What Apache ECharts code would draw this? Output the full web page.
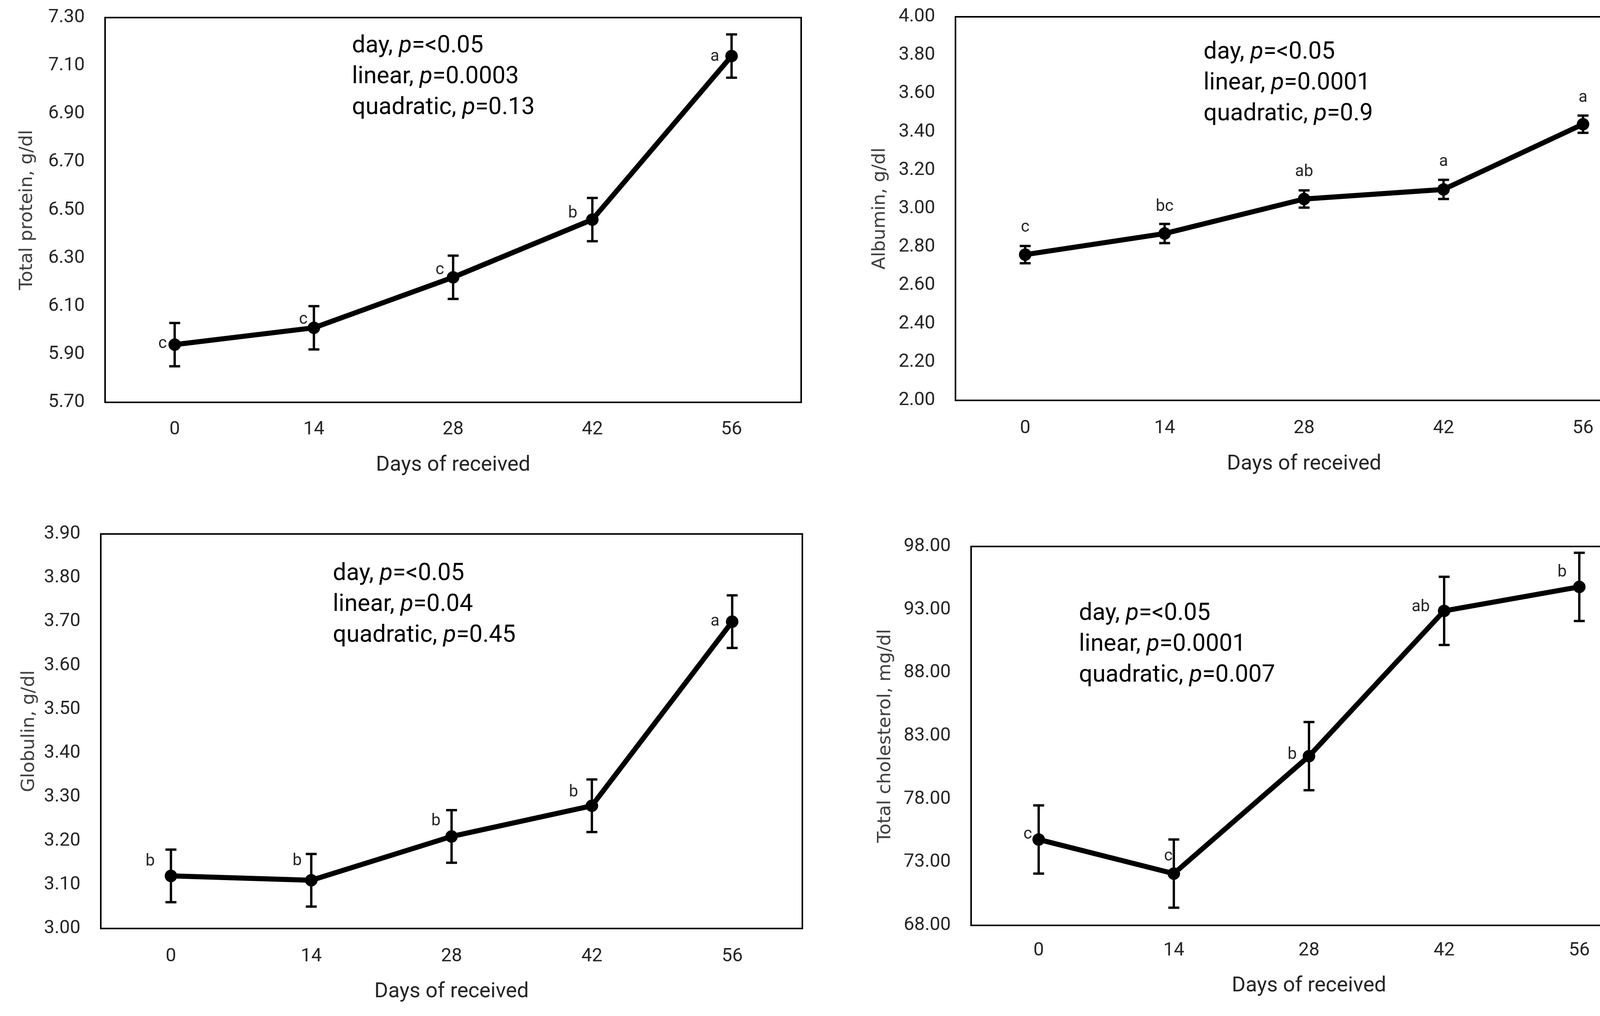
<!DOCTYPE html>
<html><head><meta charset="utf-8">
<script src="https://cdn.jsdelivr.net/npm/echarts@6/dist/echarts.min.js"></script>
<style>html,body{margin:0;padding:0;background:#fff;overflow:hidden}#c{width:4261px;height:2601px}</style>
</head><body><div id="c"></div>
<script>
// ---------- data ----------
const days = ['0', '14', '28', '42', '56'];

const protein = [5.94, 6.01, 6.22, 6.46, 7.14];
const proteinSE = [0.09, 0.09, 0.09, 0.09, 0.09];
const proteinLetters = ['c', 'c', 'c', 'b', 'a'];
const proteinTicks = [5.70, 5.90, 6.10, 6.30, 6.50, 6.70, 6.90, 7.10, 7.30];
const proteinStats = [['day, ', '=<0.05'], ['linear, ', '=0.0003'], ['quadratic, ', '=0.13']];

const albumin = [2.76, 2.87, 3.05, 3.10, 3.44];
const albuminSE = [0.045, 0.05, 0.045, 0.05, 0.045];
const albuminLetters = ['c', 'bc', 'ab', 'a', 'a'];
const albuminTicks = [2.00, 2.20, 2.40, 2.60, 2.80, 3.00, 3.20, 3.40, 3.60, 3.80, 4.00];
const albuminStats = [['day, ', '=<0.05'], ['linear, ', '=0.0001'], ['quadratic, ', '=0.9']];

const globulin = [3.12, 3.11, 3.21, 3.28, 3.70];
const globulinSE = [0.06, 0.06, 0.06, 0.06, 0.06];
const globulinLetters = ['b', 'b', 'b', 'b', 'a'];
const globulinTicks = [3.00, 3.10, 3.20, 3.30, 3.40, 3.50, 3.60, 3.70, 3.80, 3.90];
const globulinStats = [['day, ', '=<0.05'], ['linear, ', '=0.04'], ['quadratic, ', '=0.45']];

const cholesterol = [74.8, 72.1, 81.4, 92.9, 94.8];
const cholesterolSE = [2.7, 2.7, 2.7, 2.7, 2.7];
const cholesterolLetters = ['c', 'c', 'b', 'ab', 'b'];
const cholesterolTicks = [68, 73, 78, 83, 88, 93, 98];
const cholesterolStats = [['day, ', '=<0.05'], ['linear, ', '=0.0001'], ['quadratic, ', '=0.007']];

const xName = 'Days of received';

// ---------- layout / style ----------
const panels = [
  { name: 'Total protein, g/dl', vals: protein, se: proteinSE, letters: proteinLetters, ticks: proteinTicks, stats: proteinStats,
    grid: { left: 269, top: 45, width: 1782, height: 985 }, yGap: 176, xGap: 134, xMargin: 46,
    letterOff: [[-31, -2], [-27, -21], [-34, -18], [-50, -16], [-43, 2]], statPos: [901, 119] },
  { name: 'Albumin, g/dl', vals: albumin, se: albuminSE, letters: albuminLetters, ticks: albuminTicks, stats: albuminStats,
    grid: { left: 2446, top: 43, width: 1785, height: 982 }, yGap: 170, xGap: 136, xMargin: 48,
    letterOff: [[0, -69], [0, -68], [0, -69], [0, -70], [0, -67]], statPos: [3081, 135] },
  { name: 'Globulin, g/dl', vals: globulin, se: globulinSE, letters: globulinLetters, ticks: globulinTicks, stats: globulinStats,
    grid: { left: 258, top: 1367, width: 1796, height: 1010 }, yGap: 160, xGap: 135, xMargin: 48,
    letterOff: [[-53, -37], [-36, -49], [-40, -39], [-47, -34], [-44, 0]], statPos: [852, 1470] },
  { name: 'Total cholesterol, mg/dl', vals: cholesterol, se: cholesterolSE, letters: cholesterolLetters, ticks: cholesterolTicks, stats: cholesterolStats,
    grid: { left: 2486, top: 1399, width: 1730, height: 970 }, yGap: 196, xGap: 128, xMargin: 41,
    letterOff: [[-28, -13], [-14, -44], [-43, -3], [-60, -9], [-44, -37]], statPos: [2762, 1572] }
];

const TICK_FONT = 'Roboto, "Noto Sans", sans-serif';
const TEXT_COLOR = '#262626';

const grids = [], xAxes = [], yAxes = [], series = [], graphics = [];

panels.forEach((p, i) => {
  grids.push(Object.assign({ show: true, borderColor: '#000', borderWidth: 4, backgroundColor: '#fff', containLabel: false }, p.grid));
  xAxes.push({
    type: 'category', gridIndex: i, data: days, boundaryGap: true,
    axisLine: { show: false }, axisTick: { show: false }, splitLine: { show: false },
    axisLabel: { color: TEXT_COLOR, fontSize: 48, fontFamily: TICK_FONT, margin: p.xMargin },
    name: xName, nameLocation: 'middle', nameGap: p.xGap,
    nameTextStyle: { color: TEXT_COLOR, fontSize: 54, fontFamily: TICK_FONT }
  });
  const tmin = p.ticks[0], tmax = p.ticks[p.ticks.length - 1];
  yAxes.push({
    type: 'value', gridIndex: i, min: tmin, max: tmax,
    axisLine: { show: false }, axisTick: { show: false }, splitLine: { show: false },
    axisLabel: { color: TEXT_COLOR, fontSize: 48, fontFamily: TICK_FONT, margin: 52,
      customValues: p.ticks, formatter: v => Number(v).toFixed(2) },
    name: p.name, nameLocation: 'middle', nameGap: p.yGap,
    nameTextStyle: { color: '#404040', fontSize: 47, fontFamily: '"DejaVu Sans", Verdana, sans-serif' }
  });
  // error bars
  series.push({
    type: 'custom', xAxisIndex: i, yAxisIndex: i, z: 3, silent: true,
    encode: { x: 0, y: [1, 2] },
    data: p.vals.map((v, k) => [k, v - p.se[k], v + p.se[k]]),
    renderItem: (params, api) => {
      const x = api.value(0);
      const lo = api.coord([x, api.value(1)]);
      const hi = api.coord([x, api.value(2)]);
      const w = 14;
      const st = { stroke: '#000', lineWidth: 6 };
      return { type: 'group', children: [
        { type: 'line', shape: { x1: lo[0], y1: lo[1], x2: hi[0], y2: hi[1] }, style: st },
        { type: 'line', shape: { x1: lo[0] - w, y1: lo[1], x2: lo[0] + w, y2: lo[1] }, style: st },
        { type: 'line', shape: { x1: hi[0] - w, y1: hi[1], x2: hi[0] + w, y2: hi[1] }, style: st }
      ] };
    }
  });
  // mean line
  series.push({
    type: 'line', xAxisIndex: i, yAxisIndex: i, z: 4, silent: true,
    symbol: 'circle', symbolSize: 32,
    lineStyle: { color: '#000', width: 13 },
    itemStyle: { color: '#000' },
    data: p.vals.map((v, k) => ({
      value: v,
      label: { show: true, position: 'inside', offset: p.letterOff[k], formatter: p.letters[k],
        color: TEXT_COLOR, fontSize: 42, fontFamily: TICK_FONT, align: 'center', verticalAlign: 'middle' }
    }))
  });
  // statistics annotation
  p.stats.forEach((s, k) => {
    graphics.push({
      type: 'text', x: p.statPos[0], y: p.statPos[1] + k * 79, silent: true,
      style: {
        text: '{n|' + s[0] + '}{i|p}{n|' + s[1] + '}',
        align: 'left', verticalAlign: 'middle',
        rich: {
          n: { fontSize: 61, fontFamily: TICK_FONT, fill: '#000' },
          i: { fontSize: 61, fontFamily: TICK_FONT, fontStyle: 'italic', fill: '#000' }
        }
      }
    });
  });
});

const chart = echarts.init(document.getElementById('c'), null, { renderer: 'canvas' });
chart.setOption({
  animation: false,
  backgroundColor: '#fff',
  grid: grids, xAxis: xAxes, yAxis: yAxes, series: series, graphic: graphics
});
</script></body></html>
